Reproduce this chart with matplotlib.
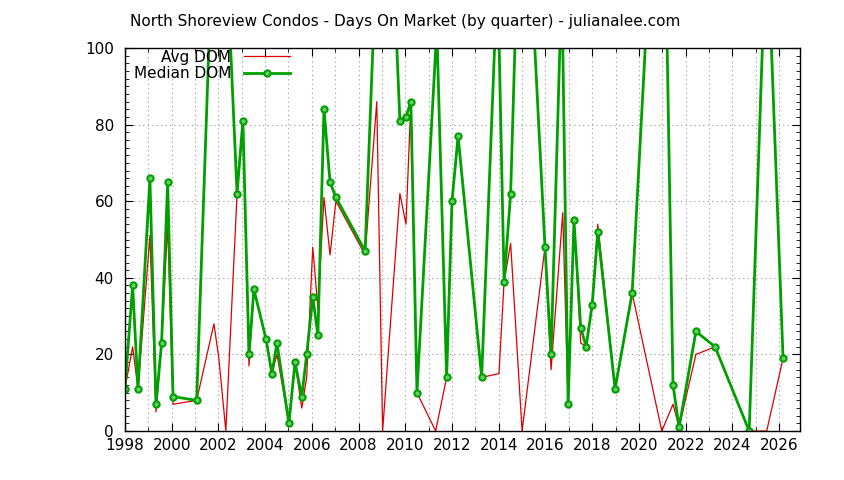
import matplotlib
matplotlib.use("Agg")
import matplotlib.pyplot as plt
from matplotlib.ticker import MultipleLocator

avg_year = [1998.00, 1998.33, 1998.56, 1999.07, 1999.33, 1999.57, 1999.83, 2000.06,
            2001.07, 2001.81, 2002.02, 2002.32, 2002.80, 2003.05, 2003.31, 2003.52,
            2004.04, 2004.29, 2004.51, 2005.02, 2005.28, 2005.57, 2005.78, 2006.04,
            2006.26, 2006.52, 2006.78, 2007.03, 2008.28, 2008.78, 2009.03, 2009.77,
            2010.03, 2010.24, 2010.50, 2011.30, 2011.77, 2012.00, 2012.26, 2013.27,
            2014.01, 2014.23, 2014.51, 2015.00, 2015.98, 2016.24, 2016.74, 2016.97,
            2017.22, 2017.51, 2017.74, 2018.00, 2018.24, 2018.98, 2019.71, 2020.98,
            2021.46, 2021.72, 2022.44, 2023.26, 2024.72, 2025.47, 2026.17]
avg_dom = [11, 22, 11, 51, 5, 23, 54, 7,
           8, 28, 19, 0, 62, 81, 17, 37,
           24, 15, 20, 2, 18, 6, 14, 48,
           32, 61, 46, 60, 46, 86, 0, 62,
           54, 86, 10, 0, 14, 60, 77, 14,
           15, 39, 49, 0, 48, 16, 57, 7,
           55, 23, 22, 33, 54, 11, 36, 0,
           7, 1, 20, 22, 0, 0, 19]

med_year = [1998.00, 1998.33, 1998.56, 1999.07, 1999.33, 1999.57, 1999.83, 2000.06,
            2001.07, 2002.00, 2002.80, 2003.05, 2003.31, 2003.52, 2004.04, 2004.29,
            2004.51, 2005.02, 2005.28, 2005.57, 2005.78, 2006.04, 2006.26, 2006.52,
            2006.78, 2007.03, 2008.28, 2009.10, 2009.77, 2010.03, 2010.24, 2010.50,
            2011.35, 2011.77, 2012.00, 2012.26, 2013.27, 2013.95, 2014.23, 2014.51,
            2015.00, 2015.98, 2016.24, 2016.70, 2016.97, 2017.22, 2017.51, 2017.74,
            2018.00, 2018.24, 2018.98, 2019.71, 2020.98, 2021.46, 2021.72, 2022.44,
            2023.26, 2024.72, 2025.47, 2026.17]
med_dom = [11, 38, 11, 66, 7, 23, 65, 9,
           8, 172, 62, 81, 20, 37, 24, 15,
           23, 2, 18, 9, 20, 35, 25, 84,
           65, 61, 47, 178, 81, 82, 86, 10,
           105, 14, 60, 77, 14, 120, 39, 62,
           165, 48, 20, 118, 7, 55, 27, 22,
           33, 52, 11, 36, 181, 12, 1, 26,
           22, 0, 133, 19]

fig = plt.figure(figsize=(8.44, 4.8), dpi=100)
ax = fig.add_axes([0.148, 0.102, 0.8, 0.798])

ax.plot(avg_year, avg_dom, color="#dd0000", lw=0.9, label="Avg DOM")
ax.plot(med_year, med_dom, color="#00a000", lw=2, marker="o", ms=4.5,
        mfc="#66cc66", mec="#00a000", mew=1.5, label="Median DOM")

ax.set_xlim(1998, 2026.9)
ax.set_ylim(0, 100)
ax.xaxis.set_major_locator(MultipleLocator(2))
ax.xaxis.set_minor_locator(MultipleLocator(1))
ax.yaxis.set_major_locator(MultipleLocator(20))
ax.yaxis.set_minor_locator(MultipleLocator(2))
ax.grid(True, which="major", color="#999999", ls=(0, (1, 3)), lw=0.8)
ax.grid(True, which="minor", axis="x", color="#999999", ls=(0, (1, 3)), lw=0.8)
ax.tick_params(which="both", direction="in", top=True, right=True, labelsize=11)
ax.tick_params(which="major", length=6)
ax.tick_params(which="minor", length=3)
ax.tick_params(axis="y", pad=8)
ax.tick_params(axis="x", pad=5)
for s in ax.spines.values():
    s.set_linewidth(1)

ax.legend(loc="upper left", markerfirst=False, frameon=False, fontsize=11,
          handlelength=3, borderaxespad=0.2, labelspacing=0.1,
          bbox_to_anchor=(0.0, 1.02))
for t in ax.get_legend().get_texts():
    t.set_ha("right")
    t.set_position((0, 0))

fig.text(0.48, 0.955, "North Shoreview Condos - Days On Market (by quarter) - julianalee.com",
         ha="center", va="center", fontsize=11)

fig.savefig("out.png")
